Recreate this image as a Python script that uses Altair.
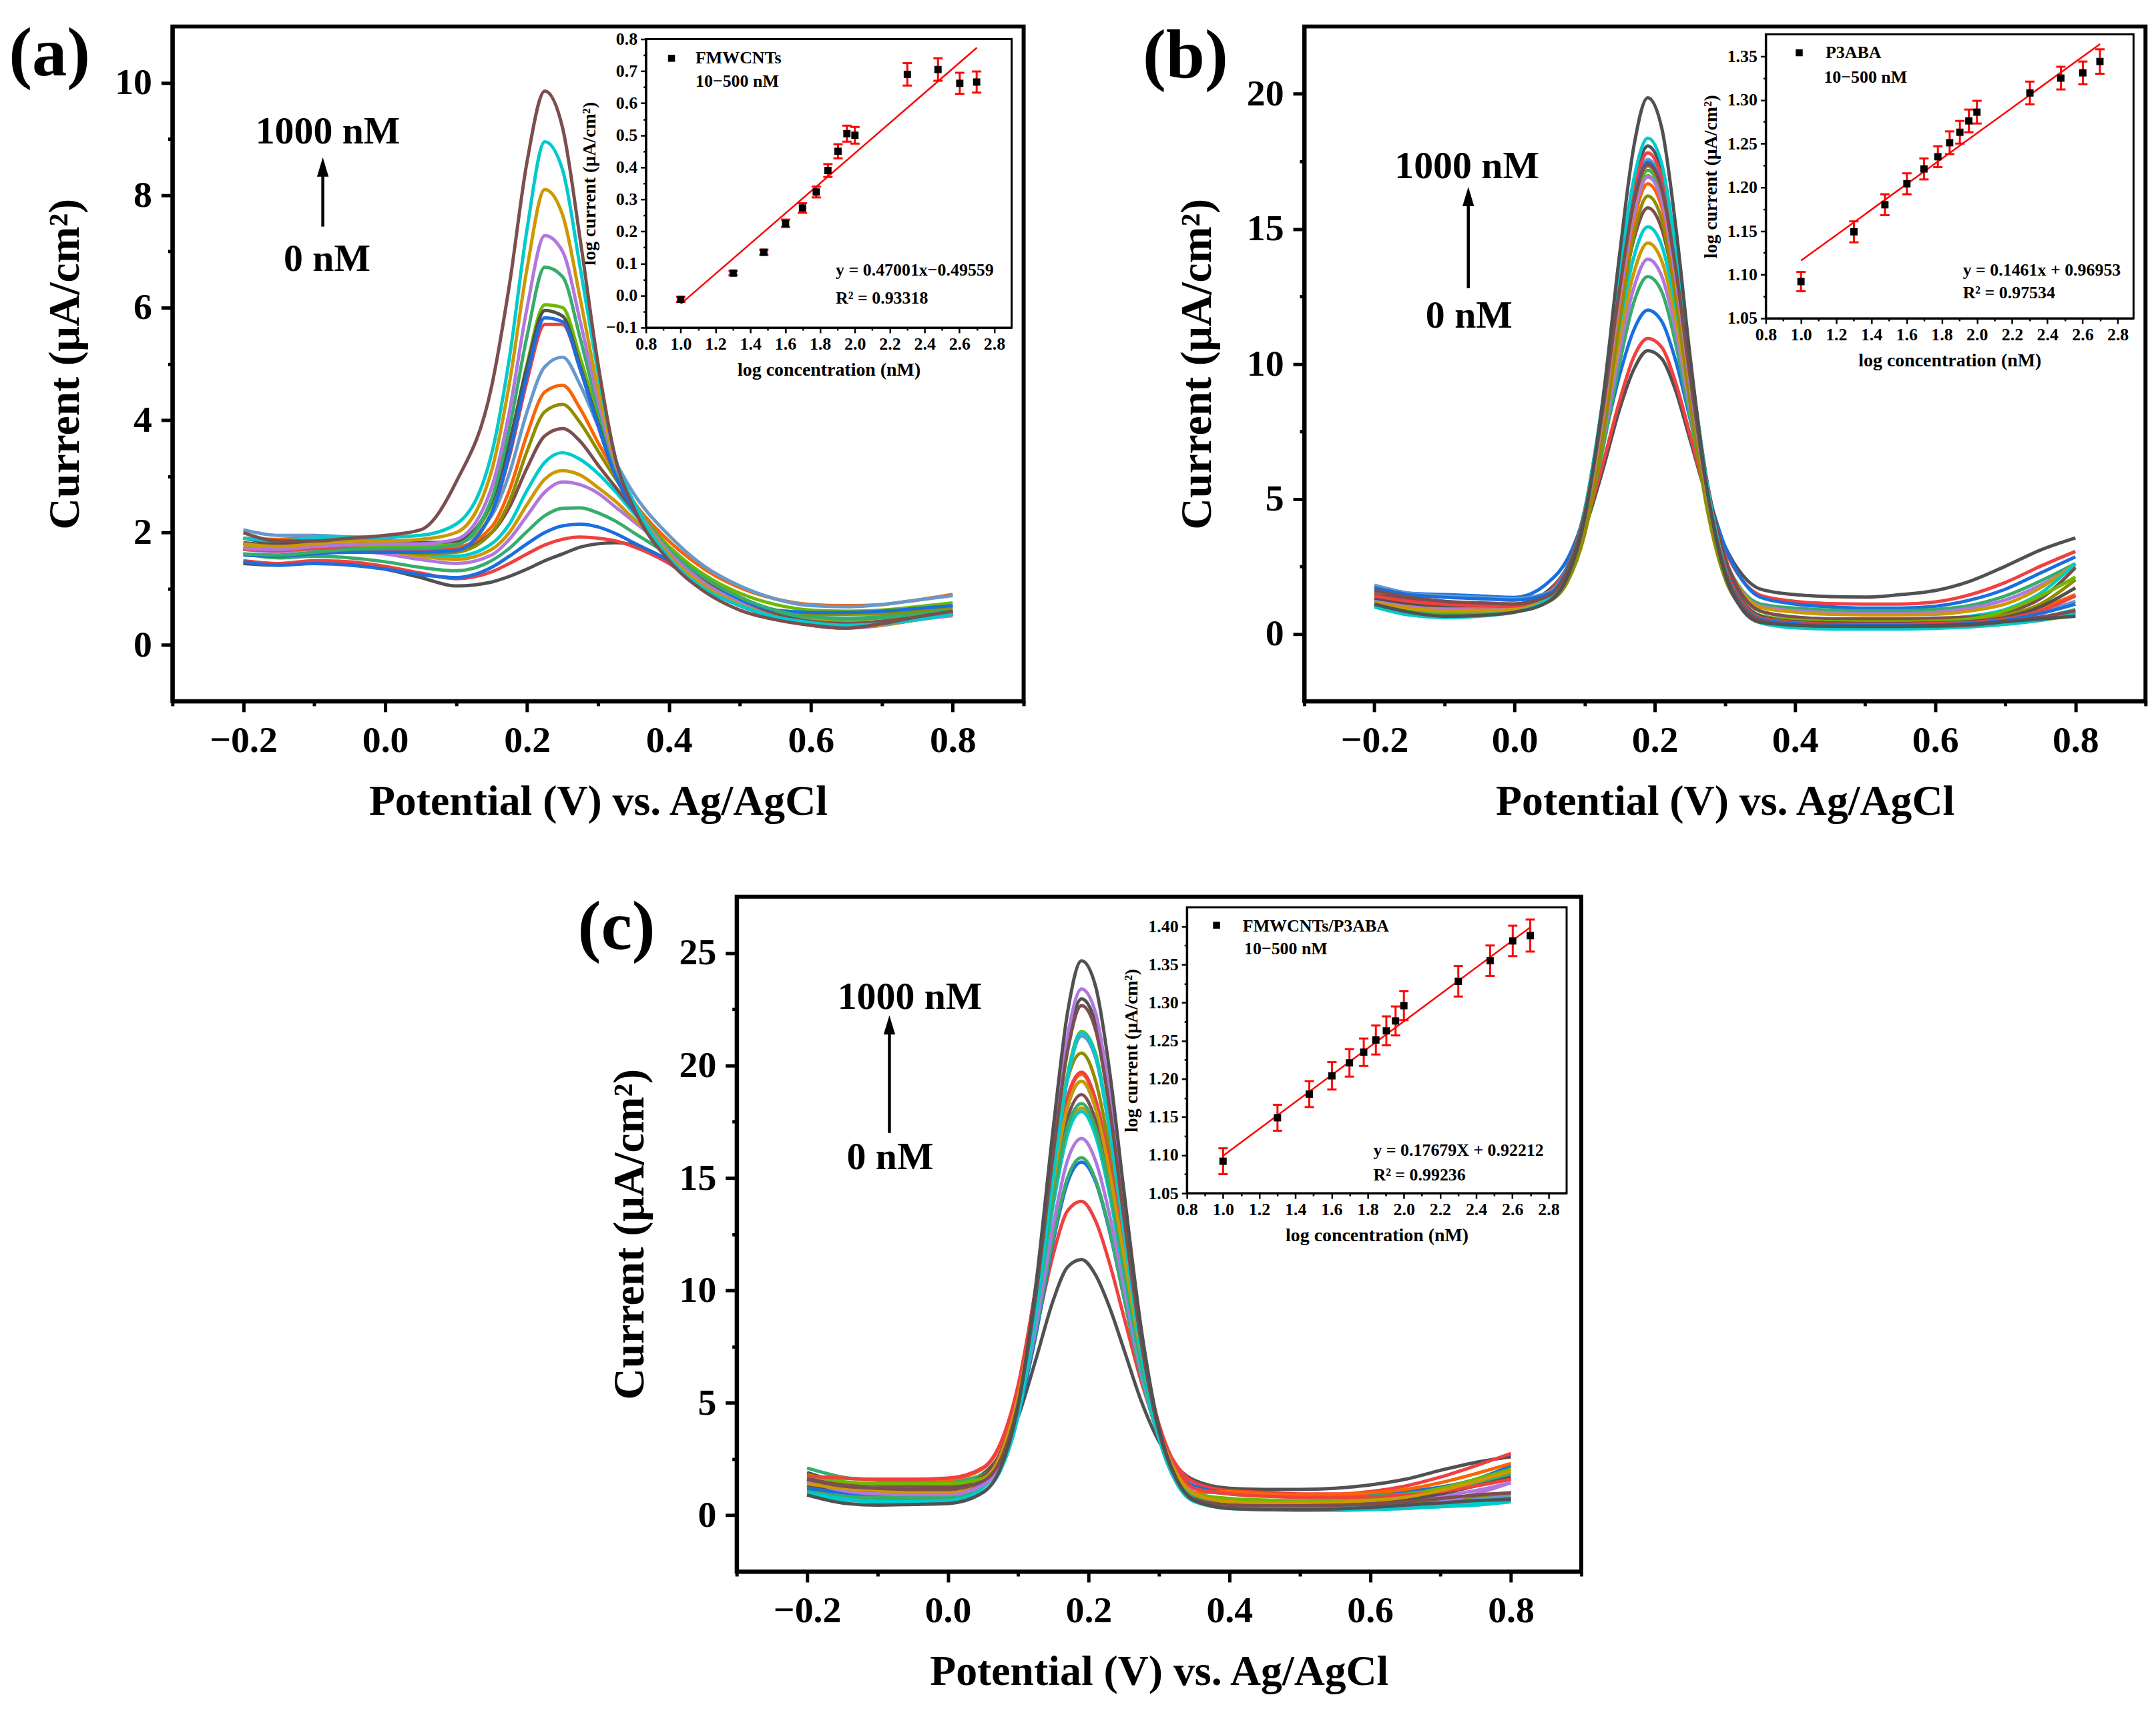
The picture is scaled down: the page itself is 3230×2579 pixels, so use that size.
import altair as alt
import pandas as pd

FONT = "Liberation Serif"
PAL = ["#515151", "#F14040", "#1A6FDF", "#37AD6B", "#B177DE", "#CC9900",
       "#00CBCC", "#7D4E4E", "#8E8E00", "#FB6501", "#6699CC", "#6FB802"]

# ---------------- panel (a) DPV curves ----------------
X_A = [-0.2, -0.15, -0.1, -0.05, 0.0, 0.05, 0.1, 0.15, 0.175, 0.2, 0.225, 0.25, 0.275,
       0.3, 0.325, 0.35, 0.4, 0.45, 0.5, 0.55, 0.6, 0.65, 0.7, 0.75, 0.8]
A_CURVES = [
    [1.45,1.42,1.48,1.45,1.35,1.2,1.05,1.12,1.22,1.35,1.5,1.62,1.74,1.8,1.82,1.78,1.5,1.05,0.72,0.52,0.42,0.38,0.42,0.5,0.58],
    [1.5,1.45,1.5,1.48,1.4,1.28,1.18,1.3,1.45,1.62,1.78,1.88,1.92,1.9,1.85,1.75,1.45,1.0,0.7,0.5,0.4,0.38,0.42,0.5,0.6],
    [1.48,1.42,1.45,1.42,1.35,1.25,1.2,1.38,1.58,1.8,2.0,2.12,2.15,2.1,1.98,1.82,1.5,1.08,0.78,0.6,0.55,0.55,0.58,0.62,0.7],
    [1.62,1.55,1.58,1.55,1.48,1.38,1.32,1.5,1.72,2.02,2.3,2.43,2.44,2.35,2.2,2.0,1.6,1.15,0.82,0.62,0.5,0.45,0.48,0.55,0.62],
    [1.7,1.66,1.7,1.68,1.62,1.52,1.45,1.6,1.88,2.3,2.72,2.9,2.85,2.7,2.45,2.2,1.7,1.2,0.85,0.6,0.45,0.38,0.4,0.48,0.55],
    [1.75,1.7,1.78,1.75,1.68,1.58,1.52,1.7,2.0,2.5,2.95,3.1,3.02,2.8,2.55,2.25,1.72,1.2,0.85,0.6,0.45,0.4,0.42,0.5,0.58],
    [1.8,1.75,1.8,1.78,1.72,1.62,1.58,1.8,2.15,2.75,3.25,3.42,3.3,3.05,2.72,2.35,1.75,1.22,0.85,0.58,0.42,0.35,0.38,0.45,0.55],
    [1.82,1.78,1.85,1.85,1.8,1.75,1.72,2.0,2.45,3.15,3.72,3.85,3.62,3.2,2.8,2.4,1.72,1.18,0.8,0.55,0.42,0.38,0.42,0.5,0.6],
    [1.7,1.68,1.72,1.72,1.68,1.62,1.65,2.0,2.55,3.45,4.15,4.28,3.95,3.45,2.95,2.5,1.75,1.2,0.85,0.62,0.55,0.55,0.55,0.6,0.68],
    [1.9,1.88,1.92,1.9,1.85,1.78,1.75,2.1,2.75,3.75,4.5,4.62,4.2,3.6,3.05,2.55,1.85,1.35,1.02,0.82,0.72,0.7,0.72,0.8,0.9],
    [2.05,1.95,1.95,1.92,1.88,1.82,1.82,2.3,3.05,4.15,4.95,5.12,4.62,3.9,3.25,2.7,1.95,1.4,1.05,0.82,0.7,0.68,0.72,0.8,0.88],
    [1.72,1.7,1.72,1.75,1.75,1.75,1.8,2.5,3.55,5.0,6.05,6.0,5.1,4.05,3.15,2.55,1.75,1.25,0.92,0.72,0.62,0.6,0.62,0.68,0.75],
    [1.9,1.82,1.85,1.85,1.85,1.82,1.85,2.55,3.6,4.95,5.95,5.85,4.95,3.95,3.05,2.45,1.6,1.05,0.7,0.5,0.38,0.32,0.38,0.5,0.6],
    [1.7,1.68,1.72,1.72,1.7,1.68,1.7,2.35,3.35,4.7,5.7,5.7,4.9,3.9,3.0,2.45,1.62,1.1,0.75,0.5,0.35,0.3,0.35,0.45,0.55],
    [1.6,1.58,1.62,1.65,1.65,1.65,1.68,2.35,3.4,4.8,5.82,5.75,4.9,3.9,3.0,2.4,1.62,1.1,0.8,0.62,0.58,0.58,0.6,0.65,0.7],
    [1.62,1.6,1.65,1.7,1.72,1.72,1.78,2.6,3.85,5.5,6.72,6.55,5.45,4.2,3.15,2.55,1.7,1.2,0.85,0.62,0.5,0.48,0.5,0.55,0.62],
    [1.72,1.7,1.75,1.78,1.8,1.8,1.88,2.8,4.15,6.0,7.28,7.0,5.75,4.35,3.2,2.55,1.65,1.1,0.75,0.5,0.35,0.3,0.35,0.45,0.52],
    [1.8,1.75,1.8,1.85,1.85,1.88,2.0,3.1,4.65,6.7,8.1,7.65,6.15,4.55,3.25,2.55,1.6,1.05,0.72,0.5,0.36,0.32,0.36,0.45,0.55],
    [1.9,1.85,1.9,1.92,1.92,1.95,2.15,3.4,5.1,7.4,8.95,8.45,6.7,4.85,3.3,2.55,1.55,1.0,0.7,0.5,0.4,0.35,0.38,0.45,0.55],
    [2.0,1.85,1.85,1.9,1.95,2.05,2.9,4.6,6.4,8.6,9.85,9.2,7.2,5.0,3.3,2.45,1.5,0.95,0.62,0.45,0.35,0.3,0.38,0.5,0.6],
]

# ---------------- panels (b) and (c) DPV curves ----------------
X_BC = [-0.2, -0.15, -0.1, -0.05, 0.0, 0.05, 0.075, 0.1, 0.125, 0.15, 0.17, 0.19, 0.21, 0.23,
        0.25, 0.275, 0.3, 0.325, 0.35, 0.4, 0.45, 0.5, 0.55, 0.6, 0.65, 0.7, 0.75, 0.8]
B_CURVES = [
    [1.55,1.35,1.2,1.12,1.1, 1.64,2.45,3.89,5.99,8.34,9.79,10.49,10.19,8.99,7.22,5.0,3.25,2.18,1.66, 1.45,1.38,1.36,1.45,1.6,1.95,2.5,3.1,3.55],
    [1.3,1.05,0.95,0.95,1.0, 1.57,2.44,3.97,6.21,8.65,10.25,10.94,10.61,9.29,7.41,4.99,3.12,1.98,1.43, 1.2,1.12,1.1,1.1,1.18,1.45,1.9,2.5,3.05],
    [1.75,1.5,1.45,1.4,1.35, 1.95,2.75,4.4,6.9,9.6,11.25,11.99,11.57,10.1,8.0,5.32,3.24,1.98,1.36, 1.1,1.0,0.95,0.95,1.02,1.25,1.65,2.25,2.85],
    [1.25,1.0,0.9,0.9,0.95, 1.42,2.23,3.94,6.73,10.05,12.27,13.23,12.67,10.72,8.08,4.95,2.76,1.59,1.11, 0.95,0.88,0.85,0.85,0.9,1.05,1.4,1.95,2.6],
    [1.1,0.9,0.8,0.8,0.9, 1.39,2.25,4.06,7.01,10.52,12.81,13.88,13.24,11.22,8.39,5.08,2.76,1.53,1.02, 0.85,0.78,0.75,0.75,0.8,0.95,1.25,1.8,2.5],
    [1.5,1.25,1.1,1.05,1.05, 1.41,2.31,4.2,7.29,10.96,13.36,14.48,13.81,11.65,8.69,5.22,2.8,1.51,0.98, 0.8,0.72,0.7,0.7,0.72,0.85,1.1,1.7,2.6],
    [1.0,0.7,0.62,0.7,0.85, 1.39,2.33,4.32,7.56,11.42,13.95,15.08,14.38,12.11,9.0,5.3,2.76,1.4,0.84, 0.62,0.55,0.5,0.5,0.55,0.65,0.9,1.5,2.6],
    [1.45,1.25,1.15,1.1,1.1, 1.51,2.49,4.56,7.94,11.97,14.6,15.78,15.0,12.64,9.4,5.55,2.85,1.43,0.85, 0.62,0.55,0.55,0.55,0.58,0.62,0.8,1.3,2.45],
    [1.2,0.95,0.85,0.85,0.9, 1.21,1.9,3.68,7.06,11.59,14.76,16.22,15.34,12.4,8.64,4.57,2.06,0.98,0.61, 0.52,0.45,0.45,0.45,0.48,0.55,0.7,1.1,2.0],
    [1.35,1.1,1.0,0.95,0.95, 1.31,2.19,4.21,7.77,12.25,15.29,16.67,15.79,13.04,9.34,5.19,2.45,1.15,0.64, 0.48,0.42,0.4,0.4,0.42,0.48,0.6,0.95,1.45],
    [1.8,1.5,1.4,1.35,1.3, 1.55,2.45,4.5,8.21,12.92,16.11,17.57,16.65,13.71,9.84,5.43,2.55,1.13,0.6, 0.42,0.38,0.38,0.38,0.4,0.45,0.55,0.8,1.2],
    [1.1,0.85,0.75,0.78,0.85, 1.32,2.21,4.27,7.9,12.47,15.56,16.97,16.12,13.27,9.51,5.28,2.54,1.21,0.69, 0.5,0.45,0.42,0.42,0.45,0.55,0.85,1.4,2.1],
    [1.3,1.1,1.05,1.05,1.05, 1.45,2.39,4.58,8.43,13.28,16.57,18.07,17.12,14.1,10.11,5.57,2.62,1.21,0.66, 0.45,0.4,0.38,0.38,0.4,0.45,0.6,1.0,1.7],
    [1.4,1.2,1.1,1.05,1.0, 1.39,2.33,4.49,8.29,13.09,16.34,17.82,16.88,13.89,9.95,5.47,2.54,1.15,0.6, 0.42,0.36,0.35,0.35,0.38,0.42,0.55,0.85,1.4],
    [1.7,1.45,1.35,1.3,1.25, 1.5,2.4,4.45,8.17,12.85,16.02,17.47,16.5,13.58,9.68,5.3,2.44,1.08,0.55, 0.38,0.32,0.3,0.3,0.32,0.38,0.5,0.75,1.1],
    [1.05,0.8,0.7,0.75,0.85, 1.33,2.23,4.31,7.98,12.61,15.74,17.17,16.26,13.38,9.52,5.19,2.37,1.02,0.5, 0.32,0.28,0.27,0.27,0.28,0.32,0.42,0.6,0.9],
    [1.2,1.0,0.9,0.88,0.9, 1.37,2.25,4.3,7.91,12.45,15.52,16.92,16.03,13.14,9.35,5.1,2.33,1.01,0.49, 0.3,0.26,0.25,0.25,0.26,0.3,0.4,0.55,0.8],
    [1.15,0.95,0.85,0.85,0.9, 1.38,2.29,4.38,8.08,12.73,15.88,17.32,16.41,13.45,9.57,5.17,2.33,0.98,0.45, 0.26,0.22,0.22,0.22,0.24,0.28,0.38,0.5,0.7],
    [1.0,0.7,0.6,0.65,0.8, 1.36,2.33,4.56,8.5,13.47,16.83,18.36,17.4,14.26,10.13,5.49,2.42,0.97,0.41, 0.22,0.18,0.18,0.18,0.2,0.25,0.35,0.5,0.75],
    [1.6,1.35,1.2,1.15,1.1, 1.43,2.34,4.45,8.15,12.8,15.95,17.38,16.45,13.5,9.6,5.25,2.37,1.02,0.5, 0.32,0.28,0.27,0.27,0.28,0.32,0.45,0.62,0.85],
    [1.1,0.8,0.65,0.68,0.8, 1.22,2.08,4.28,8.48,14.1,18.04,19.86,18.73,15.07,10.37,5.29,2.23,0.89,0.43, 0.32,0.28,0.28,0.28,0.3,0.35,0.45,0.55,0.65],
]
C_CURVES = [
    [1.9,1.45,1.25,1.25,1.35, 1.85,2.73,4.39,6.92,9.58,11.03,11.37,10.68,9.23,7.39,5.06,3.28,2.15,1.56, 1.2,1.15,1.15,1.2,1.35,1.6,2.0,2.35,2.6],
    [1.0,0.85,0.8,0.85,0.95, 1.64,2.76,4.94,8.16,11.62,13.53,13.96,13.08,11.18,8.84,5.93,3.67,2.22,1.47, 1.1,1.02,0.95,0.95,1.05,1.3,1.7,2.2,2.75],
    [1.6,1.3,1.2,1.15,1.1, 1.51,2.42,4.5,7.99,12.2,14.79,15.7,14.82,12.59,9.71,6.16,3.55,2.03,1.3, 1.0,0.92,0.9,0.9,0.95,1.05,1.25,1.6,2.2],
    [2.1,1.7,1.55,1.5,1.5, 1.81,2.68,4.72,8.19,12.37,14.99,15.9,14.91,12.67,9.72,6.15,3.46,1.94,1.2, 0.95,0.85,0.82,0.82,0.85,0.95,1.15,1.45,1.85],
    [1.5,1.25,1.15,1.1,1.05, 1.45,2.43,4.67,8.41,12.95,15.77,16.75,15.75,13.34,10.18,6.34,3.46,1.82,1.03, 0.7,0.62,0.6,0.6,0.62,0.7,0.85,1.1,1.45],
    [1.3,1.1,1.0,0.95,0.95, 1.38,2.46,4.9,9.01,13.96,17.03,18.1,17.01,14.35,10.91,6.74,3.61,1.83,0.97, 0.6,0.52,0.5,0.5,0.5,0.55,0.65,0.8,1.0],
    [0.95,0.7,0.6,0.62,0.68, 1.24,2.32,4.77,8.91,13.84,16.92,17.95,16.86,14.23,10.77,6.58,3.43,1.64,0.77, 0.35,0.28,0.25,0.25,0.28,0.32,0.38,0.45,0.6],
    [1.65,1.35,1.25,1.25,1.25, 1.75,2.81,5.28,9.5,14.51,17.64,18.7,17.53,14.78,11.22,6.91,3.67,1.83,0.93, 0.55,0.48,0.45,0.45,0.48,0.55,0.65,0.8,1.0],
    [1.1,0.85,0.75,0.75,0.8, 1.41,2.64,5.45,10.18,15.82,19.36,20.55,19.31,16.26,12.31,7.52,3.98,1.93,0.94, 0.5,0.42,0.4,0.4,0.42,0.48,0.58,0.75,1.0],
    [1.75,1.65,1.6,1.6,1.6, 2.07,3.17,5.75,10.07,15.24,18.49,19.6,18.38,15.48,11.74,7.21,3.85,1.93,1.0, 1.05,0.95,0.9,0.92,1.0,1.15,1.45,1.85,2.3],
    [1.5,1.3,1.2,1.15,1.1, 1.4,2.28,4.65,9.13,15.13,19.39,21.31,20.33,17.04,12.53,7.23,3.51,1.55,0.75, 0.45,0.4,0.38,0.38,0.4,0.45,0.55,0.7,0.85],
    [1.8,1.5,1.4,1.4,1.4, 1.65,2.53,4.86,9.32,15.3,19.58,21.51,20.53,17.22,12.74,7.41,3.73,1.76,0.95, 0.75,0.68,0.65,0.68,0.75,0.9,1.2,1.6,2.05],
    [1.35,1.15,1.1,1.1,1.15, 1.53,2.48,4.98,9.81,16.29,20.88,22.96,21.86,18.32,13.46,7.75,3.75,1.64,0.78, 0.5,0.45,0.45,0.48,0.55,0.7,0.95,1.3,1.7],
    [1.75,1.65,1.6,1.6,1.65, 2.12,3.22,5.8,10.12,15.34,18.59,19.7,18.48,15.63,11.89,7.41,4.05,2.13,1.2, 0.95,0.85,0.8,0.8,0.82,0.9,1.05,1.3,1.6],
    [1.2,1.0,0.9,0.9,0.9, 1.47,2.57,5.2,9.57,14.84,18.14,19.3,18.08,15.23,11.54,7.06,3.7,1.73,0.8, 0.35,0.3,0.28,0.28,0.3,0.35,0.45,0.6,0.75],
    [1.05,0.85,0.78,0.78,0.8, 1.35,2.39,4.89,9.05,14.11,17.25,18.3,17.19,14.52,11.0,6.74,3.54,1.71,0.83, 0.42,0.38,0.36,0.36,0.38,0.42,0.5,0.6,0.7],
    [1.5,1.1,0.95,0.92,0.92, 1.34,2.31,4.94,9.9,16.55,21.27,23.4,22.33,18.69,13.77,7.85,3.74,1.58,0.69, 0.35,0.3,0.3,0.3,0.32,0.4,0.6,0.95,1.45],
    [1.4,1.2,1.1,1.05,1.05, 1.57,2.67,5.27,9.63,14.87,18.15,19.3,18.09,15.25,11.58,7.12,3.78,1.87,0.95, 0.6,0.55,0.55,0.58,0.65,0.8,1.1,1.5,1.95],
    [1.0,0.75,0.6,0.6,0.65, 1.06,2.0,4.42,8.99,15.11,19.45,21.46,20.46,17.16,12.61,7.21,3.42,1.43,0.61, 0.3,0.25,0.22,0.22,0.25,0.3,0.4,0.55,0.7],
    [1.6,1.3,1.2,1.15,1.15, 1.52,2.46,4.98,9.74,16.13,20.61,22.66,21.57,18.08,13.29,7.65,3.71,1.58,0.72, 0.45,0.42,0.42,0.45,0.5,0.6,0.75,0.9,1.0],
    [0.9,0.55,0.45,0.48,0.52, 1.01,2.1,4.88,10.21,17.27,22.33,24.65,23.51,19.71,14.48,8.26,3.9,1.61,0.66, 0.3,0.25,0.25,0.28,0.35,0.45,0.55,0.65,0.7],
]

# ---------------- calibration insets ----------------
LOGC = [1.0, 1.301, 1.477, 1.602, 1.699, 1.778, 1.845, 1.903, 1.954, 2.0, 2.301, 2.477, 2.602, 2.699]
A_MEAN = [-0.012, 0.070, 0.135, 0.225, 0.273, 0.323, 0.390, 0.450, 0.505, 0.500, 0.690, 0.705, 0.662, 0.666]
A_ERR = [0.008, 0.007, 0.008, 0.012, 0.015, 0.017, 0.020, 0.022, 0.025, 0.026, 0.035, 0.035, 0.033, 0.033]
B_MEAN = [1.092, 1.149, 1.180, 1.204, 1.221, 1.235, 1.251, 1.263, 1.276, 1.286, 1.308, 1.325, 1.331, 1.344]
B_ERR = [0.011, 0.012, 0.012, 0.012, 0.012, 0.012, 0.013, 0.013, 0.013, 0.013, 0.013, 0.013, 0.013, 0.014]
C_MEAN = [1.092, 1.149, 1.180, 1.204, 1.221, 1.235, 1.251, 1.263, 1.276, 1.296, 1.328, 1.355, 1.381, 1.388]
C_ERR = [0.017, 0.017, 0.017, 0.018, 0.018, 0.018, 0.019, 0.019, 0.019, 0.019, 0.020, 0.020, 0.020, 0.021]
A_FIT = ([1.0, 2.7], [-0.026, 0.773])
B_FIT = ([1.0, 2.7], [1.116, 1.364])
C_FIT = ([1.0, 2.7], [1.099, 1.399])

H = 1015
ARROW_HEAD = "M-0.6,1 L0,-1 L0.6,1 Z"


def make_axis(values, test, fmt, title, major, minor, lab_fs, tit_fs, lab_pad, tit_pad,
              tick_w, dom_w, **kw):
    return alt.Axis(values=values, title=title,
                    labelExpr=f"{test} ? format(datum.value, '{fmt}') : ''",
                    tickSize={"condition": {"test": test, "value": major}, "value": minor},
                    tickWidth=tick_w, domainWidth=dom_w, labelFontSize=lab_fs,
                    titleFontSize=tit_fs, labelPadding=lab_pad, titlePadding=tit_pad,
                    labelFlush=False, labelOverlap=False, grid=False, **kw)


def build_panel(tag, xs, curves, ydom, yvals, ytest, W, ann, ins):
    ids = [f"c{j + 1:02d}" for j in range(len(curves))]
    cols = [PAL[j % 12] for j in range(len(curves))]
    df = pd.DataFrame([{"curve": ids[j], "x": x, "y": y}
                       for j, c in enumerate(curves) for x, y in zip(xs, c)])

    xs_ = alt.Scale(domain=[-0.3, 0.9], nice=False, zero=False)
    ys_ = alt.Scale(domain=ydom, nice=False, zero=False)
    xa = make_axis([round(-0.3 + 0.1 * i, 1) for i in range(13)],
                   "abs(round(datum.value*10) % 2) == 0", ".1f",
                   "Potential (V) vs. Ag/AgCl", 16, 7, 56, 64, 16, 32, 5, 6)
    ya = make_axis(yvals, ytest, ".0f", "Current (μA/cm²)", 17, 7, 56, 66, 14, 40, 5, 6)
    X = alt.X("x:Q", scale=xs_, axis=xa)
    Y = alt.Y("y:Q", scale=ys_, axis=ya)

    lines = alt.Chart(df).mark_line(interpolate="monotone", strokeWidth=5).encode(
        x=X, y=Y,
        color=alt.Color("curve:N", scale=alt.Scale(domain=ids, range=cols), legend=None))
    txt_df = pd.DataFrame({"x": [ann["top"][0], ann["bot"][0]],
                           "y": [ann["top"][1], ann["bot"][1]],
                           "t": ["1000 nM", "0 nM"]})
    txt = alt.Chart(txt_df).mark_text(font=FONT, fontSize=58, fontWeight="bold",
                                      align="center", baseline="middle", color="black").encode(
        x=X, y=Y, text="t:N")
    arr_df = pd.DataFrame({"x": [ann["arrow"][0]], "y": [ann["arrow"][1]], "y2": [ann["arrow"][2]]})
    arr = alt.Chart(arr_df).mark_rule(strokeWidth=4.5, color="black").encode(x=X, y=Y, y2="y2:Q")
    head_df = pd.DataFrame({"x": [ann["arrow"][0]], "y": [ann["arrow"][3]]})
    head = alt.Chart(head_df).mark_point(shape=ARROW_HEAD, filled=True, size=841,
                                         color="black", opacity=1, strokeWidth=0).encode(x=X, y=Y)
    letter = alt.Chart(pd.DataFrame({"t": [tag]})).mark_text(
        font=FONT, fontSize=105, fontWeight="bold", align="left", baseline="middle",
        color="black").encode(x=alt.value(ann["letter"][0]), y=alt.value(ann["letter"][1]),
                              text="t:N")
    main = alt.layer(lines, txt, arr, head, letter)

    # ----- inset -----
    x0, x1 = ins["xr"]
    yt, yb = ins["yr"]
    ixs = alt.Scale(domain=[0.8, ins["xmax"]], range=[x0, x1], nice=False, zero=False)
    iys = alt.Scale(domain=ins["ydom"], range=[yb, yt], nice=False, zero=False)
    ixa = make_axis([round(0.8 + 0.1 * i, 1) for i in range(21)],
                    "abs(round(datum.value*10) % 2) == 0", ".1f",
                    "log concentration (nM)", 8, 4, 26, 28, 4, 12, 2.5, 3,
                    orient="bottom", offset=yb - H)
    iya = make_axis(ins["yvals"], ins["ytest"], ins["yfmt"], "log current (μA/cm²)",
                    8, 4, 26, 28, 5, 10, 2.5, 3, orient="left", offset=-x0)
    IX = alt.X("lx:Q", scale=ixs, axis=ixa)
    IY = alt.Y("ly:Q", scale=iys, axis=iya)

    frame = alt.Chart(pd.DataFrame({"lx": [0.8], "lx2": [ins["xmax"]],
                                    "ly": [ins["ydom"][0]], "ly2": [ins["ydom"][1]]})).mark_rect(
        filled=False, stroke="black", strokeWidth=3).encode(x=IX, x2="lx2:Q", y=IY, y2="ly2:Q")
    fit = alt.Chart(pd.DataFrame({"lx": ins["fit"][0], "ly": ins["fit"][1]})).mark_line(
        color="#FF0000", strokeWidth=2.5).encode(x=IX, y=IY)
    pdf = pd.DataFrame({"lx": LOGC, "ly": ins["mean"],
                        "lo": [m - e for m, e in zip(ins["mean"], ins["err"])],
                        "hi": [m + e for m, e in zip(ins["mean"], ins["err"])]})
    err = alt.Chart(pdf).mark_rule(color="#FF0000", strokeWidth=3).encode(
        x=IX, y=alt.Y("lo:Q", scale=iys, axis=iya), y2="hi:Q")
    cap_lo = alt.Chart(pdf).mark_tick(orient="horizontal", color="#FF0000", thickness=3,
                                      size=14, opacity=1).encode(
        x=IX, y=alt.Y("lo:Q", scale=iys, axis=iya))
    cap_hi = alt.Chart(pdf).mark_tick(orient="horizontal", color="#FF0000", thickness=3,
                                      size=14, opacity=1).encode(
        x=IX, y=alt.Y("hi:Q", scale=iys, axis=iya))
    pts = alt.Chart(pdf).mark_square(size=120, color="black", opacity=1).encode(x=IX, y=IY)
    lsq = alt.Chart(pd.DataFrame({"lx": [ins["leg_sq"][0]], "ly": [ins["leg_sq"][1]]})).mark_square(
        size=110, color="black", opacity=1).encode(x=IX, y=IY)
    tdf = pd.DataFrame({"lx": [p[0] for p in ins["texts"]], "ly": [p[1] for p in ins["texts"]],
                        "t": [p[2] for p in ins["texts"]]})
    itxt = alt.Chart(tdf).mark_text(font=FONT, fontSize=26, fontWeight="bold", align="left",
                                    baseline="middle", color="black").encode(x=IX, y=IY, text="t:N")
    inset = alt.layer(frame, fit, err, cap_lo, cap_hi, pts, lsq, itxt)

    return alt.layer(main, inset).resolve_scale(x="independent", y="independent").properties(
        width=W, height=H)


pa = build_panel(
    "(a)", X_A, A_CURVES, [-1, 11], list(range(0, 11)),
    "abs(round(datum.value) % 2) == 0", 1280,
    {"top": (-0.081, 9.12), "bot": (-0.082, 6.85), "arrow": (-0.088, 7.44, 8.4, 8.5),
     "letter": (-246, 42)},
    {"xr": (712, 1262), "yr": (19, 453), "xmax": 2.9, "ydom": [-0.1, 0.8],
     "yvals": [round(-0.1 + 0.05 * i, 2) for i in range(19)],
     "ytest": "abs(round(datum.value*20) % 2) == 0", "yfmt": ".1f",
     "mean": A_MEAN, "err": A_ERR, "fit": A_FIT, "leg_sq": (0.947, 0.74),
     "texts": [(1.085, 0.74, "FMWCNTs"), (1.085, 0.668, "10−500 nM"),
               (1.89, 0.078, "y = 0.47001x−0.49559"), (1.89, -0.009, "R² = 0.93318")]})

pb = build_panel(
    "(b)", X_BC, B_CURVES, [-2.5, 22.5], [2.5 * i for i in range(9)],
    "abs(round(datum.value*0.4) % 2) == 0", 1265,
    {"top": (-0.068, 17.3), "bot": (-0.065, 11.75), "arrow": (-0.066, 12.8, 16.0, 16.2),
     "letter": (-243, 45)},
    {"xr": (694, 1247), "yr": (12, 439), "xmax": 2.89, "ydom": [1.05, 1.375],
     "yvals": [round(1.05 + 0.025 * i, 3) for i in range(13)],
     "ytest": "abs(round(datum.value*40) % 2) == 0", "yfmt": ".2f",
     "mean": B_MEAN, "err": B_ERR, "fit": B_FIT, "leg_sq": (0.99, 1.354),
     "texts": [(1.14, 1.354, "P3ABA"), (1.13, 1.326, "10−500 nM"),
               (1.92, 1.105, "y = 0.1461x + 0.96953"), (1.92, 1.079, "R² = 0.97534")]})

pc = build_panel(
    "(c)", X_BC, C_CURVES, [-2.5, 27.5], [2.5 * i for i in range(11)],
    "abs(round(datum.value*0.4) % 2) == 0", 1270,
    {"top": (-0.054, 23.0), "bot": (-0.082, 15.9), "arrow": (-0.083, 17.0, 21.6, 21.8),
     "letter": (-239, 47)},
    {"xr": (677, 1248), "yr": (16, 446), "xmax": 2.9, "ydom": [1.05, 1.425],
     "yvals": [round(1.05 + 0.025 * i, 3) for i in range(15)],
     "ytest": "abs(round(datum.value*40) % 2) == 0", "yfmt": ".2f",
     "mean": C_MEAN, "err": C_ERR, "fit": C_FIT, "leg_sq": (0.964, 1.4015),
     "texts": [(1.109, 1.40, "FMWCNTs/P3ABA"), (1.117, 1.37, "10−500 nM"),
               (1.831, 1.106, "y = 0.17679X + 0.92212"), (1.831, 1.074, "R² = 0.99236")]})

row1 = alt.hconcat(pa, pb, spacing=170)
chart = alt.vconcat(row1, pc, spacing=100, center=True).properties(
    padding={"left": 2, "top": 14, "right": 2, "bottom": 4}
).configure(font=FONT).configure_view(stroke="black", strokeWidth=6).configure_axis(
    grid=False, labelFont=FONT, titleFont=FONT, labelFontWeight="bold",
    titleFontWeight="bold", labelColor="black", titleColor="black",
    domainColor="black", tickColor="black")

chart.save("out.html", embed_options={"renderer": "svg", "actions": False})
